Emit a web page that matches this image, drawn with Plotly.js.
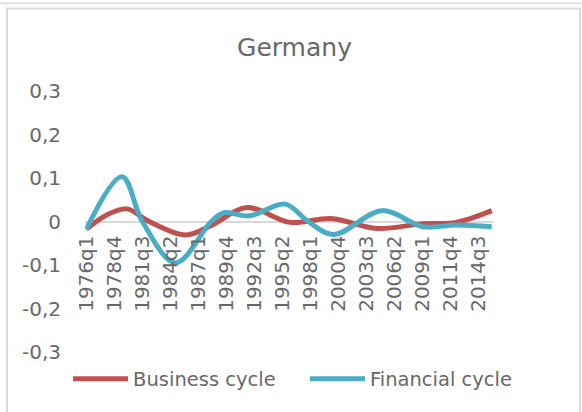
<!DOCTYPE html>
<html>
<head>
<meta charset="utf-8">
<script src="https://cdn.plot.ly/plotly-3.0.1.min.js"></script>
<style>
  html, body { margin: 0; padding: 0; background: #ffffff; }
  #chart { width: 582px; height: 412px; }
</style>
</head>
<body>
<div id="chart"></div>
<script>
// ---- data ----
const tickQuarters = ['1976q1','1978q4','1981q3','1984q2','1987q1','1989q4','1992q3',
  '1995q2','1998q1','2000q4','2003q3','2006q2','2009q1','2011q4','2014q3'];
const firstQuarter = '1976q1';
const lastQuarter = '2015q4';

const businessQuarters = ['1976q1','1978q1','1980q1','1982q1','1985q4','1988q2','1991q4',
  '1996q1','2000q1','2004q3','2009q1','2012q2','2015q4'];
const businessCycle = [-0.018, 0.015, 0.029, 0.002, -0.031, -0.009, 0.032,
  -0.002, 0.007, -0.016, -0.005, -0.002, 0.025];

const financialQuarters = ['1976q1','1979q3','1981q3','1984q4','1988q2','1989q3','1992q1',
  '1995q3','1997q4','2000q2','2005q1','2009q1','2012q2','2015q4'];
const financialCycle = [-0.018, 0.103, 0.000, -0.095, 0.000, 0.020, 0.013,
  0.040, 0.000, -0.030, 0.025, -0.012, -0.008, -0.012];

const yTickVals = [-0.3, -0.2, -0.1, 0, 0.1, 0.2, 0.3];
const yTickText = ['-0,3', '-0,2', '-0,1', '0', '0,1', '0,2', '0,3'];

// ---- helpers ----
function qIndex(s) {
  const y = parseInt(s.slice(0, 4), 10);
  const q = parseInt(s.slice(5), 10);
  return (y - 1976) * 4 + (q - 1);
}

const FONT = '"DejaVu Sans", sans-serif';
const GREY = '#686868';

const traces = [
  {
    x: businessQuarters.map(qIndex), y: businessCycle,
    type: 'scatter', mode: 'lines', name: 'Business cycle', legend: 'legend',
    line: { color: '#C0504D', width: 5, shape: 'spline', smoothing: 1 }
  },
  {
    x: financialQuarters.map(qIndex), y: financialCycle,
    type: 'scatter', mode: 'lines', name: 'Financial cycle', legend: 'legend2',
    line: { color: '#4BACC6', width: 5, shape: 'spline', smoothing: 1 }
  }
];

const legendBase = {
  orientation: 'h', xref: 'container', yref: 'container',
  xanchor: 'left', y: 0.08, yanchor: 'middle',
  font: { family: FONT, size: 19.5, color: GREY },
  itemwidth: 55, bgcolor: 'rgba(0,0,0,0)', borderwidth: 0
};

const layout = {
  width: 582, height: 412,
  margin: { l: 85, r: 89, t: 91, b: 60, autoexpand: false },
  paper_bgcolor: '#ffffff', plot_bgcolor: '#ffffff',
  font: { family: FONT, color: GREY },
  title: { text: 'Germany', font: { family: FONT, size: 25, color: GREY },
           x: 0.506, xanchor: 'center', y: 0.885, yanchor: 'middle' },
  xaxis: {
    range: [qIndex(firstQuarter) - 0.5, qIndex(lastQuarter) + 0.5],
    tickvals: tickQuarters.map(qIndex), ticktext: tickQuarters,
    tickangle: -90, anchor: 'free', position: 0.5,
    showgrid: false, zeroline: false, showline: false,
    ticks: 'outside', ticklen: 5, tickcolor: 'rgba(0,0,0,0)',
    tickfont: { family: FONT, size: 20, color: GREY },
    fixedrange: true
  },
  yaxis: {
    range: [-0.3, 0.3], tickvals: yTickVals, ticktext: yTickText,
    showgrid: false, zeroline: true, zerolinecolor: '#d9d9d9', zerolinewidth: 2,
    showline: false, ticks: 'outside', ticklen: 19, tickcolor: 'rgba(0,0,0,0)',
    tickfont: { family: FONT, size: 20, color: GREY },
    fixedrange: true
  },
  showlegend: true,
  legend: Object.assign({}, legendBase, { x: 0.117 }),
  legend2: Object.assign({}, legendBase, { x: 0.524 }),
  shapes: [
    { type: 'line', xref: 'paper', yref: 'paper', x0: -0.25, x1: 1.25, y0: 1.336, y1: 1.336,
      line: { color: '#e3e3e3', width: 2 }, layer: 'below' },
    { type: 'rect', xref: 'paper', yref: 'paper', x0: -0.191, x1: 1.213, y0: -0.3, y1: 1.316,
      line: { color: '#d9d9d9', width: 2 }, fillcolor: 'rgba(0,0,0,0)', layer: 'below' }
  ]
};

Plotly.newPlot('chart', traces, layout, { displayModeBar: false, staticPlot: true });
</script>
</body>
</html>
